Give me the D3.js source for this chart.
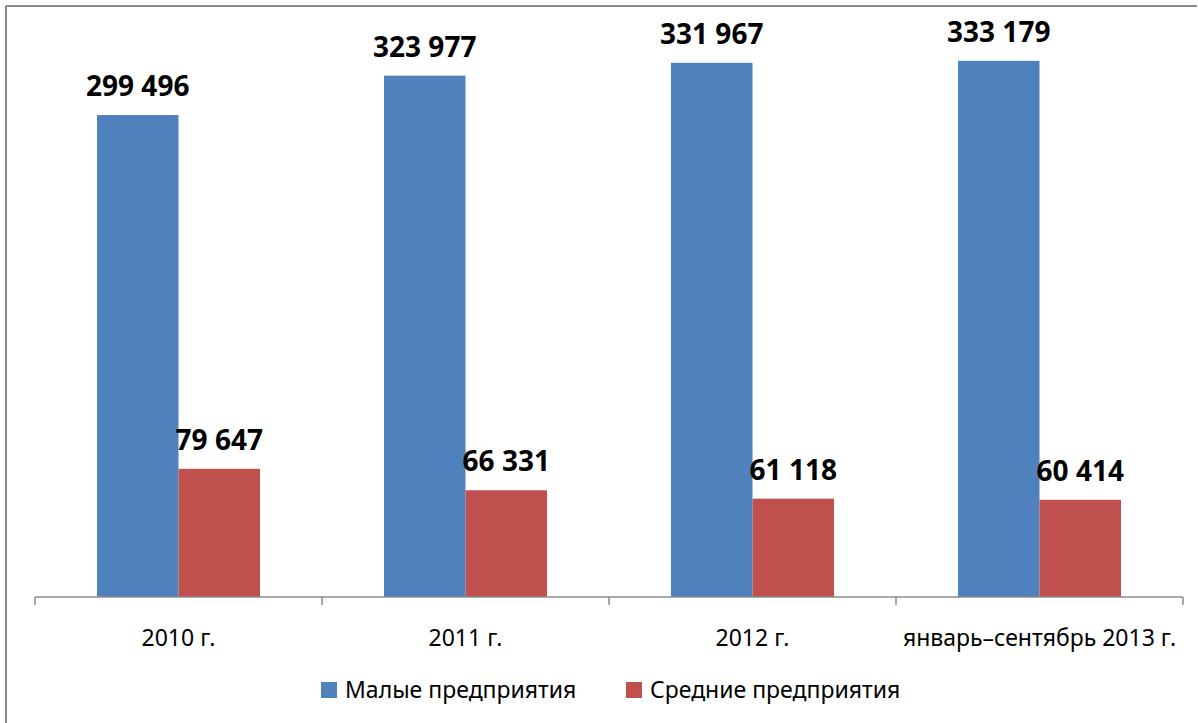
<!DOCTYPE html>
<html>
<head>
<meta charset="utf-8">
<script src="https://cdn.jsdelivr.net/npm/d3@7"></script>
<style>
  html, body { margin: 0; padding: 0; background: #fff; }
  svg { display: block; font-family: 'Noto Sans', 'Open Sans', sans-serif; }
  .axis path, .axis line { stroke: #8c8c8c; stroke-width: 1.5; }
  .axis text { font-size: 23px; fill: #000; }
  .value-label { font-size: 28px; font-weight: bold; fill: #000; }
  .legend-text { font-size: 23px; fill: #000; }
</style>
</head>
<body>
<div id="chart"></div>
<script>
const categories = ['2010 г.', '2011 г.', '2012 г.', 'январь–сентябрь 2013 г.'];
const seriesNames = ['Малые предприятия', 'Средние предприятия'];
const smallValues = [299496, 323977, 331967, 333179];
const mediumValues = [79647, 66331, 61118, 60414];
const colors = ['#4f81bd', '#c0504d'];

const width = 1198;
const height = 723;
const margins = { top: 37, right: 15, bottom: 126, left: 35 };
const chartWidth = width - margins.left - margins.right;
const chartHeight = height - margins.top - margins.bottom;

const data = categories.map((c, i) => ({
  category: c,
  values: [smallValues[i], mediumValues[i]]
}));

const svg = d3.select('#chart')
  .append('svg')
  .attr('width', width)
  .attr('height', height);

// frame (only top and left edges are visible in the picture)
svg.append('line')
  .attr('x1', 6).attr('x2', width - 1)
  .attr('y1', 6).attr('y2', 6)
  .attr('stroke', '#8a8a8a').attr('stroke-width', 2);
svg.append('line')
  .attr('x1', 6).attr('x2', 6)
  .attr('y1', 6).attr('y2', height)
  .attr('stroke', '#8a8a8a').attr('stroke-width', 2);

const plotG = svg.append('g')
  .attr('transform', `translate(${margins.left},${margins.top})`);

const xScale = d3.scaleBand()
  .domain(categories)
  .range([0, chartWidth])
  .padding(0);

const innerScale = d3.scaleBand()
  .domain([0, 1])
  .range([0, xScale.bandwidth()])
  .paddingOuter(0.76)
  .paddingInner(0);

const yScale = d3.scaleLinear()
  .domain([0, 348000])
  .range([chartHeight, 0]);

const groups = plotG.selectAll('g.category')
  .data(data)
  .enter()
  .append('g')
  .attr('class', 'category')
  .attr('transform', d => `translate(${xScale(d.category)},0)`);

groups.selectAll('rect')
  .data(d => d.values.map((v, i) => ({ v, i })))
  .enter()
  .append('rect')
  .attr('x', d => innerScale(d.i))
  .attr('width', innerScale.bandwidth())
  .attr('y', d => yScale(d.v))
  .attr('height', d => chartHeight - yScale(d.v))
  .attr('fill', d => colors[d.i]);

groups.selectAll('text.value-label')
  .data(d => d.values.map((v, i) => ({ v, i })))
  .enter()
  .append('text')
  .attr('class', 'value-label')
  .attr('x', d => innerScale(d.i) + innerScale.bandwidth() / 2)
  .attr('y', d => yScale(d.v) - 19)
  .attr('text-anchor', 'middle')
  .text(d => d3.format(',')(d.v).replace(/,/g, ' '));

// x axis with ticks between categories
const xAxisEl = plotG.append('g')
  .attr('class', 'axis')
  .attr('transform', `translate(0,${chartHeight})`);

xAxisEl.append('line')
  .attr('x1', 0).attr('x2', chartWidth)
  .attr('y1', 0).attr('y2', 0);

const tickPositions = categories.map(c => xScale(c)).concat([chartWidth]);
xAxisEl.selectAll('line.tick')
  .data(tickPositions)
  .enter()
  .append('line')
  .attr('class', 'tick')
  .attr('x1', d => d).attr('x2', d => d)
  .attr('y1', 0).attr('y2', 8);

xAxisEl.selectAll('text')
  .data(categories)
  .enter()
  .append('text')
  .attr('x', d => xScale(d) + xScale.bandwidth() / 2)
  .attr('y', 49)
  .attr('text-anchor', 'middle')
  .text(d => d);

// legend
const legendItems = [
  { name: seriesNames[0], color: colors[0], x: 321 },
  { name: seriesNames[1], color: colors[1], x: 626 }
];

const legend = svg.append('g').attr('class', 'legend');
const legendG = legend.selectAll('g')
  .data(legendItems)
  .enter()
  .append('g')
  .attr('transform', d => `translate(${d.x},682)`);

legendG.append('rect')
  .attr('width', 16)
  .attr('height', 16)
  .attr('fill', d => d.color);

legendG.append('text')
  .attr('class', 'legend-text')
  .attr('x', 24)
  .attr('y', 16)
  .text(d => d.name);
</script>
</body>
</html>
